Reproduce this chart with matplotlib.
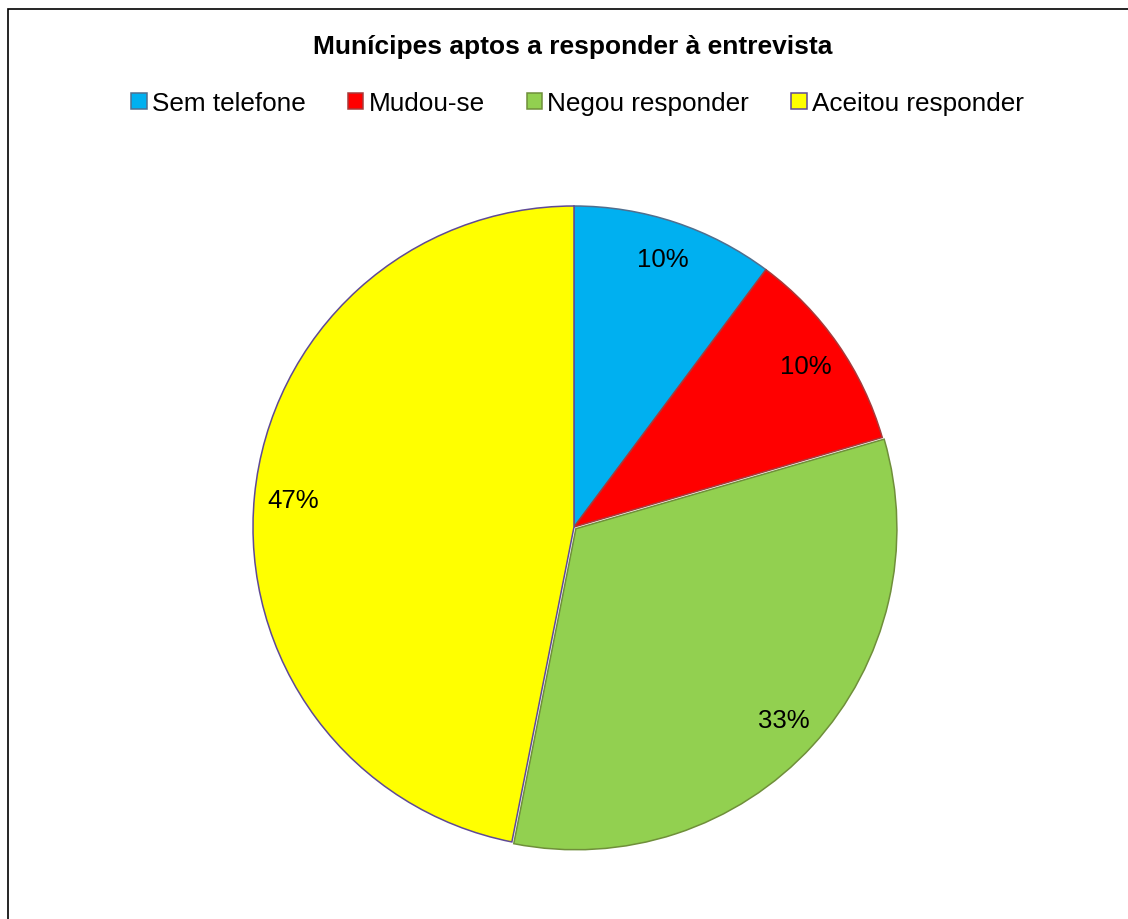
import matplotlib.pyplot as plt
from matplotlib.patches import Patch, Rectangle

plt.rcParams['font.family'] = ['Liberation Sans', 'DejaVu Sans']

# data (shares in %)
categories = ["Sem telefone", "Mudou-se", "Negou responder", "Aceitou responder"]
shares = [10.2, 10.3, 32.6, 46.9]
fill_colors = ["#00b0f0", "#ff0000", "#92d050", "#ffff00"]
edge_colors = ["#4f6f8f", "#a83a3a", "#6f8f3a", "#5f4a96"]
explode = [0, 0, 0.008, 0]

W, H = 1128, 920
cx, cy, r = 574, 528, 321

fig = plt.figure(figsize=(W / 100, H / 100), dpi=100)
ax = fig.add_axes([(cx - r) / W, (H - cy - r) / H, 2 * r / W, 2 * r / H])

wedges, texts, autotexts = ax.pie(
    shares, colors=fill_colors, explode=explode, startangle=90,
    counterclock=False, autopct='%1.0f%%', pctdistance=0.88,
    wedgeprops=dict(linewidth=1.1),
    textprops=dict(fontsize=18.5, color="black"),
)
for w, ec in zip(wedges, edge_colors):
    w.set_edgecolor(ec)
    w.set_clip_on(False)
ax.set_xlim(-1, 1)
ax.set_ylim(-1, 1)
ax.set_aspect('equal')
ax.axis('off')

fig.text(0.508, 1 - 47 / H, "Munícipes aptos a responder à entrevista",
         ha="center", va="center", fontsize=19, fontweight="bold")

handles = [Patch(facecolor=fc, edgecolor=ec, linewidth=1.1)
           for fc, ec in zip(fill_colors, edge_colors)]
fig.legend(handles, categories, loc="center", ncol=4,
           bbox_to_anchor=(0.512, 1 - 104 / H), frameon=False,
           fontsize=18.8, handlelength=0.6, handleheight=0.6,
           handletextpad=0.2, columnspacing=1.6)

# chart-area border (right and bottom edges lie outside the image)
fig.add_artist(Rectangle((8 / W, -0.1), 1.2, 1.1 - 10 / H,
                         transform=fig.transFigure, fill=False,
                         edgecolor="black", linewidth=1.2))

fig.savefig("out.png", dpi=100)
